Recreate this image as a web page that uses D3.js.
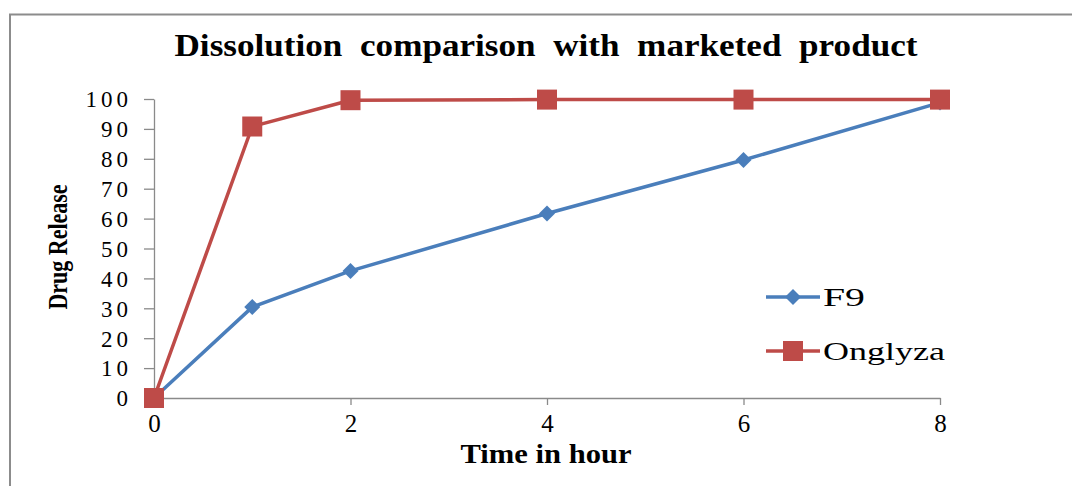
<!DOCTYPE html>
<html>
<head>
<meta charset="utf-8">
<script src="https://cdn.jsdelivr.net/npm/d3@7"></script>
<style>
  html, body { margin: 0; padding: 0; background: #fff; }
  svg { display: block; }
</style>
</head>
<body>
<svg id="chart" width="1072" height="486"></svg>
<script>
// Sampling times (hours) and cumulative drug release (%)
const times = [0, 1, 2, 4, 6, 8];
const f9 = [0, 30.4, 42.5, 61.7, 79.6, 98.8];
const onglyza = [0, 90.8, 99.6, 99.8, 99.8, 99.8];
const seriesNames = ["F9", "Onglyza"];
const xTicks = [0, 2, 4, 6, 8];
const yTicks = [0, 10, 20, 30, 40, 50, 60, 70, 80, 90, 100];

const svg = d3.select("#chart");
const W = 1072, H = 486;

// Chart frame
svg.append("rect")
  .attr("x", 10).attr("y", 14.5)
  .attr("width", W + 20).attr("height", H + 20)
  .attr("fill", "#fff").attr("stroke", "#8c8c8c").attr("stroke-width", 2);

const x = d3.scaleLinear().domain([0, 8]).range([154, 940]);
const y = d3.scaleLinear().domain([0, 100]).range([398, 99]);

const axisColor = "#8a8a8a";
const serif = "'Liberation Serif', 'Times New Roman', serif";

// Y axis
const yAxis = svg.append("g")
  .attr("transform", `translate(${x(0)},0)`)
  .call(d3.axisLeft(y).tickValues(yTicks).tickSize(10).tickSizeOuter(0).tickPadding(12));
yAxis.select(".domain").attr("stroke", axisColor).attr("stroke-width", 1.3);
yAxis.selectAll(".tick line").attr("stroke", axisColor).attr("stroke-width", 1.3);
yAxis.selectAll(".tick text")
  .attr("font-family", serif).attr("font-size", 23).attr("fill", "#000")
  .attr("letter-spacing", "4px").attr("dy", "0.34em");

// X axis
const xAxis = svg.append("g")
  .attr("transform", `translate(0,${y(0)})`)
  .call(d3.axisBottom(x).tickValues(xTicks).tickSize(7).tickSizeOuter(0).tickPadding(9));
xAxis.select(".domain").attr("stroke", axisColor).attr("stroke-width", 1.3);
xAxis.selectAll(".tick line").attr("stroke", axisColor).attr("stroke-width", 1.3);
xAxis.selectAll(".tick text")
  .attr("font-family", serif).attr("font-size", 25).attr("fill", "#000");

// Title and axis titles
svg.append("text")
  .attr("x", 546).attr("y", 56)
  .attr("text-anchor", "middle")
  .attr("font-family", serif).attr("font-weight", "bold").attr("font-size", 32)
  .attr("word-spacing", "8px")
  .attr("textLength", 743).attr("lengthAdjust", "spacingAndGlyphs")
  .text("Dissolution comparison with marketed product");

svg.append("text")
  .attr("transform", "translate(67,247) rotate(-90)")
  .attr("text-anchor", "middle")
  .attr("font-family", serif).attr("font-weight", "bold").attr("font-size", 27)
  .attr("textLength", 125).attr("lengthAdjust", "spacingAndGlyphs")
  .text("Drug Release");

svg.append("text")
  .attr("x", 546).attr("y", 463)
  .attr("text-anchor", "middle")
  .attr("font-family", serif).attr("font-weight", "bold").attr("font-size", 27)
  .attr("textLength", 171).attr("lengthAdjust", "spacingAndGlyphs")
  .text("Time in hour");

// Series
const blue = "#4a7ebb", red = "#be4b48";
const line = d3.line().x((d, i) => x(times[i])).y(d => y(d));

svg.append("path").datum(f9)
  .attr("d", line).attr("fill", "none")
  .attr("stroke", blue).attr("stroke-width", 3.5).attr("stroke-linejoin", "round");
svg.append("path").datum(onglyza)
  .attr("d", line).attr("fill", "none")
  .attr("stroke", red).attr("stroke-width", 3.5).attr("stroke-linejoin", "round");

const diamond = d3.symbol().type(d3.symbolSquare).size(128);
svg.append("g").selectAll("path").data(f9).join("path")
  .attr("d", diamond)
  .attr("transform", (d, i) => `translate(${x(times[i])},${y(d)}) rotate(45)`)
  .attr("fill", blue);

svg.append("g").selectAll("rect").data(onglyza).join("rect")
  .attr("x", (d, i) => x(times[i]) - 10).attr("y", d => y(d) - 10)
  .attr("width", 20).attr("height", 20)
  .attr("fill", red);

// Legend
const legend = svg.append("g");
const legendY = [297, 351];
const legendColors = [blue, red];
const legendTextWidth = [42, 122];
seriesNames.forEach((name, k) => {
  const ly = legendY[k];
  legend.append("line")
    .attr("x1", 766).attr("x2", 820).attr("y1", ly).attr("y2", ly)
    .attr("stroke", legendColors[k]).attr("stroke-width", 3.5);
  if (k === 0) {
    legend.append("path").attr("d", diamond)
      .attr("transform", `translate(793,${ly}) rotate(45)`).attr("fill", blue);
  } else {
    legend.append("rect").attr("x", 783).attr("y", ly - 10)
      .attr("width", 20).attr("height", 20).attr("fill", red);
  }
  legend.append("text")
    .attr("x", 823).attr("y", ly).attr("dy", "0.34em")
    .attr("font-family", serif).attr("font-size", 25).attr("fill", "#000")
    .attr("textLength", legendTextWidth[k]).attr("lengthAdjust", "spacingAndGlyphs")
    .text(name);
});
</script>
</body>
</html>
